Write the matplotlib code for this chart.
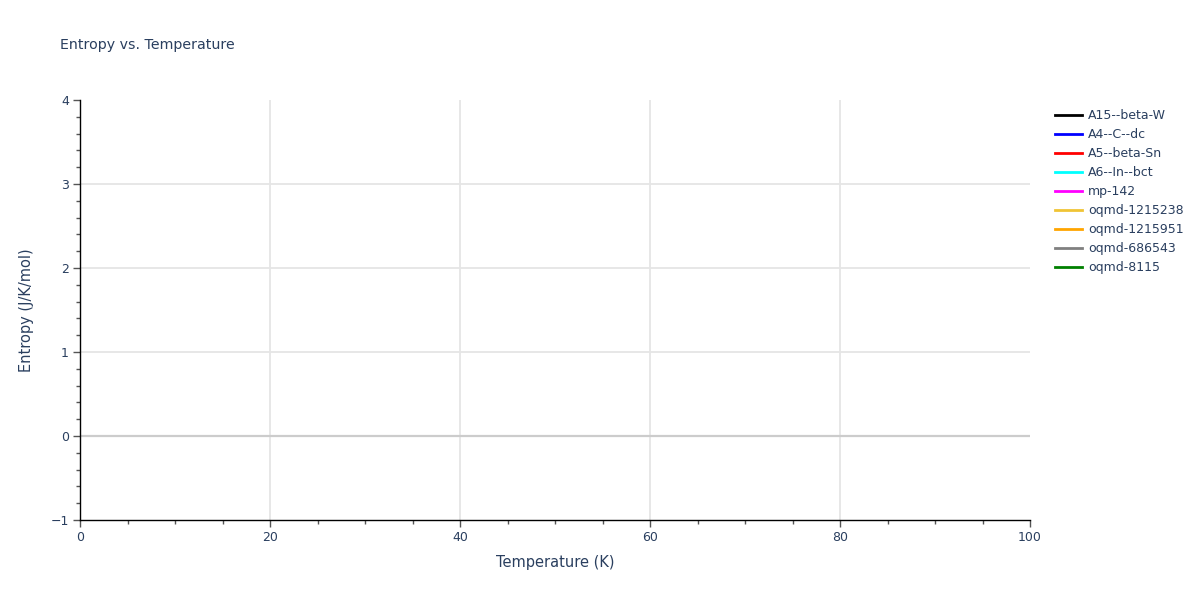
import numpy as np
import matplotlib.pyplot as plt
from matplotlib.ticker import MultipleLocator

# series names and colours from the legend; the traces carry no visible points
series_names = ['A15--beta-W', 'A4--C--dc', 'A5--beta-Sn', 'A6--In--bct', 'mp-142',
                'oqmd-1215238', 'oqmd-1215951', 'oqmd-686543', 'oqmd-8115']
series_colors = ['black', 'blue', 'red', 'cyan', 'magenta',
                 '#f0c435', 'orange', 'gray', 'green']
temperature = []
entropy = [[] for _ in series_names]

x_range = [0, 100]
y_range = [-1, 4]

txt = '#2a3f5f'
plt.rcParams['font.family'] = ['DejaVu Sans']

fig = plt.figure(figsize=(12, 6), dpi=100)
ax = fig.add_axes([80 / 1200, 80 / 600, 950 / 1200, 420 / 600])

for name, col, ys in zip(series_names, series_colors, entropy):
    ax.plot(temperature, ys, color=col, label=name, linewidth=2)

ax.set_xlim(x_range)
ax.set_ylim(y_range)
ax.xaxis.set_major_locator(MultipleLocator(20))
ax.xaxis.set_minor_locator(MultipleLocator(5))
ax.yaxis.set_major_locator(MultipleLocator(1))
ax.yaxis.set_minor_locator(MultipleLocator(0.2))

# grid only inside the plot area (none on the top/right edges)
for gx in np.arange(x_range[0] + 20, x_range[1], 20):
    ax.axvline(gx, color='#e5e5e5', linewidth=1.3, zorder=0)
for gy in np.arange(y_range[0] + 1, y_range[1], 1):
    if gy != 0:
        ax.axhline(gy, color='#e5e5e5', linewidth=1.3, zorder=0)
ax.axhline(0, color='#cccccc', linewidth=1.6, zorder=1)

for s in ['top', 'right']:
    ax.spines[s].set_visible(False)
for s in ['left', 'bottom']:
    ax.spines[s].set_color('black')
    ax.spines[s].set_linewidth(1)

ax.tick_params(which='major', length=5, width=1, color='#555555', labelcolor=txt, labelsize=9, pad=3)
ax.tick_params(which='minor', length=3, width=1, color='#555555')

ax.set_xlabel('Temperature (K)', color=txt, fontsize=10.5, labelpad=8)
ax.set_ylabel('Entropy (J/K/mol)', color=txt, fontsize=10.5, labelpad=12)
fig.text(60 / 1200, 1 - 45 / 600, 'Entropy vs. Temperature', color=txt, fontsize=10.2, va='center')

leg = ax.legend(loc='upper left', bbox_to_anchor=(1.0207, 0.99), frameon=False,
                fontsize=9, labelcolor=txt, handlelength=2.2, handletextpad=0.45,
                labelspacing=0.48, borderaxespad=0)

fig.savefig('out.png', dpi=100)
